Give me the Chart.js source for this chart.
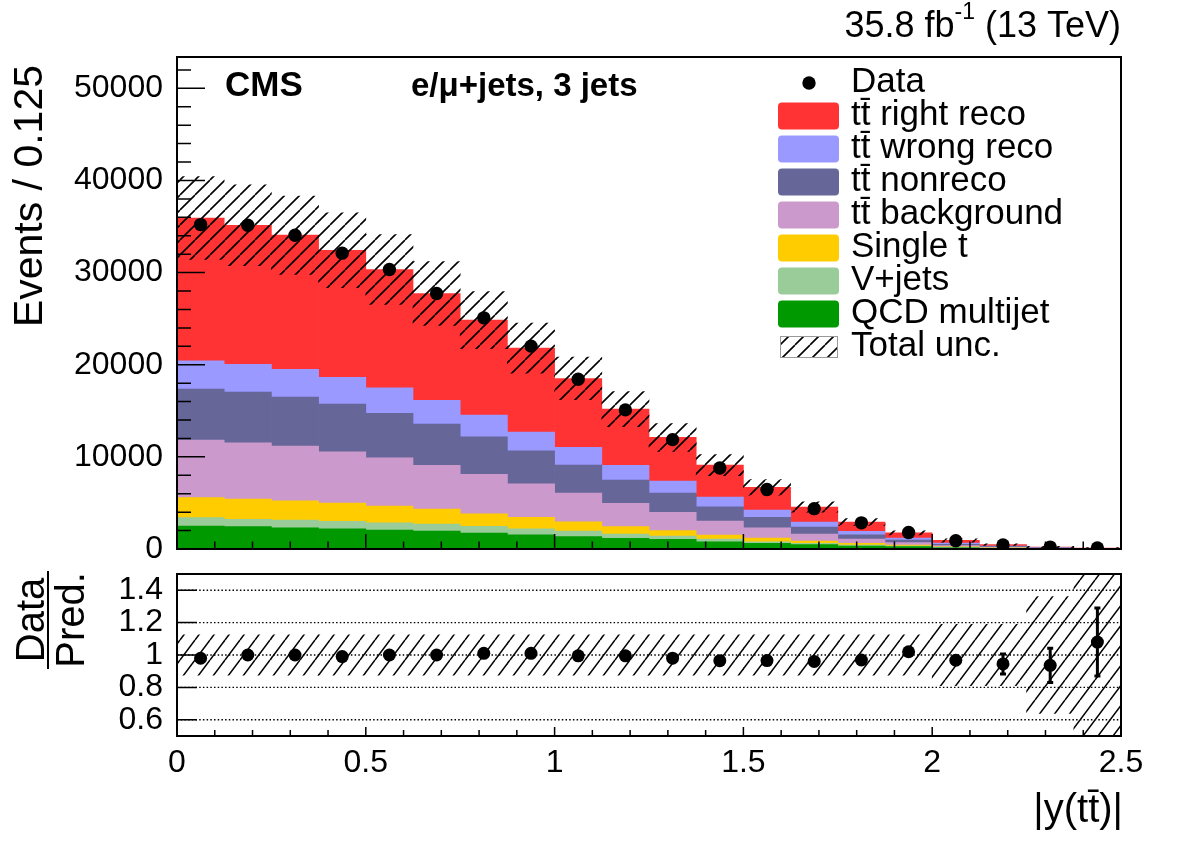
<!DOCTYPE html>
<html>
<head>
<meta charset="utf-8">
<title>|y(tt̄)| e/μ+jets, 3 jets</title>
<script src="https://cdn.jsdelivr.net/npm/chart.js"></script>
<style>
  html, body { margin: 0; padding: 0; background: #fff; }
  #wrap { position: relative; width: 1182px; height: 848px; }
  #main { position: absolute; left: 0; top: 0; }
  #ratio { position: absolute; left: 0; top: 560px; }
</style>
</head>
<body>
<div id="wrap">
  <canvas id="main" width="1182" height="560"></canvas>
  <canvas id="ratio" width="1182" height="288"></canvas>
</div>
<script>

// bins of |y(ttbar)|, width 0.125
const binCenters = [0.0625, 0.1875, 0.3125, 0.4375, 0.5625, 0.6875, 0.8125, 0.9375, 1.0625, 1.1875,
                    1.3125, 1.4375, 1.5625, 1.6875, 1.8125, 1.9375, 2.0625, 2.1875, 2.3125, 2.4375];

// stacked predictions (events / 0.125), bottom to top
const qcd       = [2490, 2420, 2310, 2200, 2060, 1950, 1740, 1550, 1340, 1160, 1050, 790, 620, 470, 330, 250, 130, 65, 30, 14];
const vJets     = [910, 800, 840, 800, 790, 760, 720, 650, 610, 470, 360, 295, 170, 150, 100, 80, 45, 25, 12, 5];
const singleT   = [2170, 2200, 2090, 1990, 1810, 1630, 1370, 1240, 1010, 790, 580, 435, 400, 250, 190, 100, 55, 25, 13, 6];
const ttBkg     = [6250, 6110, 5930, 5570, 5240, 4730, 4270, 3640, 3110, 2530, 1990, 1520, 1120, 760, 465, 260, 140, 70, 33, 15];
const ttNonreco = [5530, 5500, 5320, 5170, 4820, 4490, 4080, 3580, 3040, 2530, 2090, 1550, 1130, 760, 465, 290, 150, 80, 37, 17];
const ttWrong   = [3070, 3000, 3000, 2890, 2780, 2570, 2350, 2030, 1920, 1590, 1305, 1050, 790, 540, 370, 210, 110, 55, 25, 11];
const ttRight   = [15510, 15110, 14570, 13810, 12830, 11600, 10310, 9110, 7480, 6110, 4735, 3470, 2460, 1630, 1010, 560, 300, 150, 70, 32];

// observed
const dataCounts = [35210, 35140, 34060, 32110, 30330, 27730, 25090, 22020, 18420, 15100,
                    11870, 8790, 6460, 4380, 2840, 1785, 900, 444, 206, 108];
// relative total uncertainty of the prediction
const totalUnc = [0.125, 0.125, 0.125, 0.125, 0.125, 0.125, 0.125, 0.125, 0.125, 0.125,
                  0.125, 0.125, 0.125, 0.125, 0.125, 0.125, 0.19, 0.19, 0.36, 0.5];
// data stat error on the ratio
const ratioErr = [0.004, 0.004, 0.004, 0.004, 0.005, 0.005, 0.005, 0.006, 0.006, 0.007,
                  0.008, 0.009, 0.011, 0.013, 0.016, 0.02, 0.025, 0.062, 0.106, 0.21];

const yTicks = [0, 10000, 20000, 30000, 40000, 50000];
const ratioTicks = [0.6, 0.8, 1, 1.2, 1.4];
const xTicks = [0, 0.5, 1, 1.5, 2, 2.5];

const FONT = "'Liberation Sans', Arial, Helvetica, sans-serif";
Chart.defaults.font.family = FONT;
Chart.defaults.color = '#000';

const components = [
    {label: 'QCD multijet', values: qcd, color: '#009900'},
    {label: 'V+jets', values: vJets, color: '#99cc99'},
    {label: 'Single t', values: singleT, color: '#ffcc00'},
    {label: 'tt\u0304 background', values: ttBkg, color: '#cc99cc'},
    {label: 'tt\u0304 nonreco', values: ttNonreco, color: '#666699'},
    {label: 'tt\u0304 wrong reco', values: ttWrong, color: '#9999ff'},
    {label: 'tt\u0304 right reco', values: ttRight, color: '#ff3333'},
];

const total = binCenters.map((_, i) => components.reduce((s, c) => s + c.values[i], 0));


function makeHatch(w, h, lw){
    let tile = document.createElement('canvas');
    tile.width = w;
    tile.height = h;
    let g = tile.getContext('2d');
    g.strokeStyle = '#000';
    g.lineWidth = lw;
    g.beginPath();
    g.moveTo(0, h); g.lineTo(w, 0);
    g.moveTo(-w, h); g.lineTo(0, 0);
    g.moveTo(w, h); g.lineTo(2 * w, 0);
    g.stroke();
    return g.createPattern(tile, 'repeat');
}

const mainHatch = makeHatch(15, 15, 1.6);
const ratioHatch = makeHatch(15, 20, 1.5);

// keep Chart.js from reserving room for half tick labels at the axis ends
function fixWidth(w){
    return s => { s.width = w; s.paddingTop = 0; s.paddingBottom = 0; };
}
function fixHeight(h){
    return s => { s.height = h; s.paddingLeft = 0; s.paddingRight = 0; };
}


function drawFrameTicks(chart, t){
    const {ctx, chartArea: a, scales: {x, y}} = chart;
    ctx.save();
    ctx.strokeStyle = '#000';
    ctx.lineWidth = 1.5;
    ctx.beginPath();
    for(let v = 0; v <= 2.5 + 1e-9; v += 0.1){
        let px = x.getPixelForValue(v);
        let major = Math.abs(v * 2 - Math.round(v * 2)) < 1e-6;
        ctx.moveTo(px, a.bottom);
        ctx.lineTo(px, a.bottom - (major ? t.xMajor : t.xMinor));
    }
    t.yMajorVals.forEach(v => {
        let py = y.getPixelForValue(v);
        ctx.moveTo(a.left, py);
        ctx.lineTo(a.left + t.yMajor, py);
    });
    if(t.yMinorStep){
        for(let v = 0; v <= y.max; v += t.yMinorStep){
            let py = y.getPixelForValue(v);
            ctx.moveTo(a.left, py);
            ctx.lineTo(a.left + t.yMinor, py);
        }
    }
    ctx.stroke();
    ctx.lineWidth = 2;
    ctx.strokeRect(a.left, a.top, a.right - a.left, a.bottom - a.top);
    ctx.restore();
}


function drawLegend(ctx){
    const rows = [{label: 'Data', kind: 'point'}]
        .concat(components.slice().reverse().map(c => ({label: c.label, kind: 'fill', color: c.color})))
        .concat([{label: 'Total unc.', kind: 'hatch'}]);
    ctx.save();
    ctx.font = '35px ' + FONT;
    ctx.textAlign = 'left';
    ctx.textBaseline = 'alphabetic';
    rows.forEach((row, k) => {
        let cy = 83 + k * 33;
        if(row.kind === 'point'){
            ctx.fillStyle = '#000';
            ctx.beginPath();
            ctx.arc(809, cy, 6.7, 0, 2 * Math.PI);
            ctx.fill();
        } else if(row.kind === 'fill'){
            ctx.fillStyle = row.color;
            ctx.beginPath();
            ctx.roundRect(778, cy - 13.5, 61, 27, 4);
            ctx.fill();
        } else {
            ctx.fillStyle = mainHatch;
            ctx.fillRect(780, cy - 11, 58, 22);
            ctx.strokeStyle = '#999';
            ctx.lineWidth = 1;
            ctx.strokeRect(780.5, cy - 10.5, 57, 21);
        }
        ctx.fillStyle = '#000';
        ctx.fillText(row.label, 851, cy + 9);
    });
    ctx.restore();
}


function drawMainTexts(ctx){
    ctx.save();
    ctx.fillStyle = '#000';
    ctx.textBaseline = 'alphabetic';
    ctx.textAlign = 'left';

    ctx.font = 'bold 35px ' + FONT;
    ctx.fillText('CMS', 225, 96);
    ctx.font = 'bold 33px ' + FONT;
    ctx.fillText('e/\u03bc+jets, 3 jets', 411, 96);

    // lumi label, right aligned on the frame
    const big = '36px ' + FONT, small = '23px ' + FONT;
    ctx.font = big;
    let wa = ctx.measureText('35.8 fb').width;
    let wb = ctx.measureText(' (13 TeV)').width;
    ctx.font = small;
    let ws = ctx.measureText('-1').width;
    let x = 1121 - (wa + ws + wb);
    ctx.font = big; ctx.fillText('35.8 fb', x, 37); x += wa;
    ctx.font = small; ctx.fillText('-1', x, 19); x += ws;
    ctx.font = big; ctx.fillText(' (13 TeV)', x, 37);

    // y title
    ctx.translate(42, 65);
    ctx.rotate(-Math.PI / 2);
    ctx.textAlign = 'right';
    ctx.font = '41px ' + FONT;
    ctx.fillText('Events / 0.125', 0, 0);
    ctx.restore();
}


const mainDecor = {
    id: 'mainDecor',
    afterDatasetsDraw(chart){
        drawFrameTicks(chart, {xMajor: 15, xMinor: 7.5, yMajorVals: yTicks, yMajor: 28, yMinor: 14, yMinorStep: 2000});
    },
    afterDraw(chart){
        drawMainTexts(chart.ctx);
        drawLegend(chart.ctx);
    }
};


let mainDatasets = [
    {
        type: 'line',
        label: 'Data',
        data: binCenters.map((x, i) => ({x: x, y: dataCounts[i]})),
        showLine: false,
        pointRadius: 6.7,
        pointHoverRadius: 6.7,
        pointBackgroundColor: '#000',
        pointBorderWidth: 0,
        stack: 'data',
        order: 0
    },
    {
        label: 'Total unc.',
        data: binCenters.map((x, i) => ({x: x, y: [total[i] * (1 - totalUnc[i]), total[i] * (1 + totalUnc[i])]})),
        backgroundColor: mainHatch,
        stack: 'unc',
        order: 1
    }
].concat(components.map(c => ({
    label: c.label,
    data: binCenters.map((x, i) => ({x: x, y: c.values[i]})),
    backgroundColor: c.color,
    stack: 'mc',
    order: 2
})));


new Chart(document.getElementById('main'), {
    type: 'bar',
    data: {datasets: mainDatasets},
    options: {
        responsive: false,
        animation: false,
        layout: {padding: {left: 0, right: 61, top: 57, bottom: 0}},
        datasets: {bar: {barPercentage: 1, categoryPercentage: 1, borderWidth: 0, grouped: false}},
        plugins: {legend: {display: false}, tooltip: {enabled: false}},
        scales: {
            x: {
                type: 'linear', min: 0, max: 2.5, offset: false,
                grid: {display: false, drawTicks: false},
                border: {display: false},
                ticks: {display: false},
                afterFit: fixHeight(11)
            },
            y: {
                stacked: true, min: 0, max: 53400,
                grid: {display: false, drawTicks: false},
                border: {display: false},
                ticks: {font: {size: 32}, color: '#000', padding: 14, autoSkip: false, callback: v => String(v)},
                afterBuildTicks: s => { s.ticks = yTicks.map(v => ({value: v})); },
                afterFit: fixWidth(177)
            }
        }
    },
    plugins: [mainDecor]
});


const ratioDecor = {
    id: 'ratioDecor',
    beforeDatasetsDraw(chart){
        const {ctx, chartArea: a, scales: {y}} = chart;
        ctx.save();
        ctx.strokeStyle = '#000';
        ctx.lineWidth = 1.4;
        ctx.setLineDash([1.5, 2.2]);
        ctx.beginPath();
        ratioTicks.forEach(v => {
            let py = y.getPixelForValue(v);
            ctx.moveTo(a.left, py);
            ctx.lineTo(a.right, py);
        });
        ctx.stroke();
        ctx.restore();
    },
    afterDatasetDraw(chart, args){
        if(args.index !== 1) return;
        const {ctx, scales: {x, y}} = chart;
        ctx.save();
        ctx.strokeStyle = '#000';
        ctx.lineWidth = 3;
        ctx.beginPath();
        binCenters.forEach((c, i) => {
            let r = dataCounts[i] / total[i];
            let px = x.getPixelForValue(c);
            let y1 = y.getPixelForValue(r - ratioErr[i]);
            let y2 = y.getPixelForValue(r + ratioErr[i]);
            ctx.moveTo(px, y1); ctx.lineTo(px, y2);
            ctx.moveTo(px - 3, y1); ctx.lineTo(px + 3, y1);
            ctx.moveTo(px - 3, y2); ctx.lineTo(px + 3, y2);
        });
        ctx.stroke();
        ctx.restore();
    },
    afterDatasetsDraw(chart){
        drawFrameTicks(chart, {xMajor: 9, xMinor: 6, yMajorVals: ratioTicks, yMajor: 20, yMinor: 0, yMinorStep: 0});
    },
    afterDraw(chart){
        const ctx = chart.ctx;
        ctx.save();
        ctx.fillStyle = '#000';
        ctx.strokeStyle = '#000';
        ctx.font = '40px ' + FONT;
        ctx.textAlign = 'right';
        ctx.textBaseline = 'alphabetic';
        ctx.fillText('|y(tt\u0304)|', 1123, 262);

        ctx.translate(48, 60);
        ctx.rotate(-Math.PI / 2);
        ctx.textAlign = 'center';
        ctx.fillText('Data', 0, -4);
        ctx.fillText('Pred.', 0, 36);
        ctx.lineWidth = 2;
        ctx.beginPath();
        ctx.moveTo(-49, 0);
        ctx.lineTo(49, 0);
        ctx.stroke();
        ctx.restore();
    }
};


new Chart(document.getElementById('ratio'), {
    type: 'bar',
    data: {
        datasets: [
            {
                type: 'line',
                label: 'Data/Pred.',
                data: binCenters.map((x, i) => ({x: x, y: dataCounts[i] / total[i]})),
                showLine: false,
                pointRadius: 6.5,
                pointHoverRadius: 6.5,
                pointBackgroundColor: '#000',
                pointBorderWidth: 0,
                order: 0
            },
            {
                label: 'Total unc.',
                data: binCenters.map((x, i) => ({x: x, y: [1 - totalUnc[i], 1 + totalUnc[i]]})),
                backgroundColor: ratioHatch,
                order: 1
            }
        ]
    },
    options: {
        responsive: false,
        animation: false,
        layout: {padding: {left: 0, right: 61, top: 14, bottom: 0}},
        datasets: {bar: {barPercentage: 1, categoryPercentage: 1, borderWidth: 0, grouped: false}},
        plugins: {legend: {display: false}, tooltip: {enabled: false}},
        scales: {
            x: {
                type: 'linear', min: 0, max: 2.5, offset: false,
                grid: {display: false, drawTicks: false},
                border: {display: false},
                ticks: {font: {size: 32}, color: '#000', padding: 8, autoSkip: false, maxRotation: 0, minRotation: 0, callback: v => String(v)},
                afterBuildTicks: s => { s.ticks = xTicks.map(v => ({value: v})); },
                afterFit: fixHeight(112)
            },
            y: {
                min: 0.5, max: 1.5,
                grid: {display: false, drawTicks: false},
                border: {display: false},
                ticks: {font: {size: 32}, color: '#000', padding: 14, autoSkip: false, callback: v => String(v)},
                afterBuildTicks: s => { s.ticks = ratioTicks.map(v => ({value: v})); },
                afterFit: fixWidth(177)
            }
        }
    },
    plugins: [ratioDecor]
});

</script>
</body>
</html>
